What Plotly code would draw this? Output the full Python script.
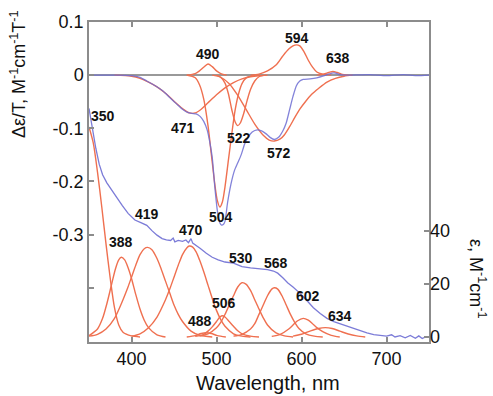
import plotly.graph_objects as go

# ---------------- data ----------------
# experimental MCD (left axis, Δε/T)
mcd_wl = [350, 380, 400, 410, 418, 428, 437, 445, 453, 460, 466, 471, 476, 481, 485, 489, 492, 495, 498,
          501, 504, 506, 508, 510, 513, 517, 521, 525, 529, 533, 537, 542, 548, 553, 558, 563, 568, 573,
          578, 582, 586, 590, 594, 598, 602, 610, 618, 625, 630, 636, 640, 645, 652, 680, 700, 720, 735, 750]
mcd_val = [0, 0, -0.001, -0.004, -0.011, -0.02, -0.03, -0.042, -0.054, -0.064, -0.07, -0.072, -0.073,
           -0.078, -0.087, -0.103, -0.125, -0.155, -0.21, -0.255, -0.278, -0.282, -0.281, -0.275, -0.24,
           -0.205, -0.18, -0.165, -0.15, -0.13, -0.117, -0.107, -0.103, -0.105, -0.11, -0.117, -0.121,
           -0.117, -0.105, -0.09, -0.065, -0.04, -0.02, -0.011, -0.008, -0.007, -0.005, -0.002, 0.001,
           0.004, 0.004, 0.001, 0, 0.001, -0.001, 0.001, -0.001, 0]

# experimental absorption (right axis, ε)
abs_wl = [350, 352, 355, 358, 362, 366, 371, 377, 383, 389, 396, 404, 411, 418, 424, 430, 436, 441, 446,
          449, 451, 455, 460, 464, 467, 470, 472, 476, 481, 488, 495, 502, 510, 520, 530, 540, 550, 560,
          567, 572, 578, 584, 590, 598, 606, 614, 622, 630, 638, 645, 653, 661, 669, 677, 685, 692, 700,
          706, 710, 716, 722, 728, 734, 738, 742, 746]
abs_eps = [86, 82, 77, 71, 65, 61, 58, 55, 52, 49.5, 46.5, 44, 43, 42, 40, 38.3, 37, 36.5, 36.3,
           37.2, 35.8, 36.3, 36, 36.5, 35.5, 37, 35.3, 34.5, 33.3, 31.5, 30, 29, 28.2, 27.8, 26.5, 26,
           25.7, 25.3, 24.8, 24, 22.3, 20.3, 18.8, 16.5, 13.8, 11, 8.8, 7, 5.8, 5, 4, 3.1, 2.2, 1.5, 0.9,
           0.5, 0.3, 0.8, 0, 0.5, -0.3, 0.6, -0.5, 0.4, -0.6, 0]

# MCD Gaussian components
b471_wl = [380, 400, 410, 420, 430, 440, 450, 460, 468, 475, 482, 490, 500, 510, 520, 530, 540, 550, 560]
b471_val = [0, -0.002, -0.006, -0.013, -0.022, -0.034, -0.049, -0.063, -0.071, -0.071, -0.064, -0.052,
            -0.037, -0.024, -0.014, -0.007, -0.003, -0.001, 0]
b490_wl = [465, 475, 480, 485, 490, 495, 500, 505, 512]
b490_val = [0, 0.003, 0.008, 0.015, 0.021, 0.016, 0.008, 0.003, 0]
b504_wl = [465, 475, 480, 485, 490, 494, 498, 501, 504, 507, 510, 514, 518, 522, 526, 530, 535, 545]
b504_val = [0, -0.005, -0.018, -0.045, -0.095, -0.15, -0.205, -0.236, -0.248, -0.238, -0.21, -0.16,
            -0.11, -0.065, -0.035, -0.016, -0.005, 0]
b522_wl = [500, 505, 510, 514, 518, 522, 525, 528, 532, 536, 540, 545, 550, 558]
b522_val = [0, -0.004, -0.015, -0.035, -0.065, -0.088, -0.095, -0.09, -0.072, -0.048, -0.027, -0.011,
            -0.003, 0]
b572_wl = [495, 505, 515, 525, 535, 545, 555, 562, 568, 575, 580, 586, 592, 598, 605, 612, 620, 630,
           640, 650, 660]
b572_val = [0, -0.004, -0.016, -0.038, -0.065, -0.092, -0.113, -0.122, -0.124, -0.12, -0.112, -0.097,
            -0.08, -0.064, -0.049, -0.036, -0.025, -0.013, -0.006, -0.002, 0]
b594_wl = [540, 550, 560, 570, 578, 585, 590, 594, 598, 603, 608, 613, 618, 625, 635]
b594_val = [0, 0.002, 0.008, 0.019, 0.036, 0.049, 0.055, 0.057, 0.055, 0.044, 0.028, 0.015, 0.006,
            0.002, 0]
b638_wl = [618, 626, 632, 637, 642, 647, 655]
b638_val = [0, 0.002, 0.005, 0.007, 0.005, 0.002, 0]

# absorption Gaussian components
a350_wl = [350, 355, 360, 365, 370, 375, 380, 385, 390, 400, 410]
a350_eps = [79, 73, 62, 49, 35, 22, 11, 4.5, 1.8, 0.4, 0]
a388_wl = [350, 360, 366, 371, 376, 381, 385, 388, 392, 396, 400, 405, 410, 415, 420, 430, 440]
a388_eps = [0.5, 3, 7, 12.5, 19, 25.5, 29, 30, 29, 26, 22, 16, 10.5, 6.3, 3.5, 0.8, 0]
a419_wl = [350, 360, 370, 380, 390, 395, 400, 405, 410, 415, 419, 424, 430, 435, 440, 445, 450, 455,
           460, 470, 480, 495]
a419_eps = [0.3, 1, 3, 7, 14, 18, 22.5, 27, 31, 33.2, 33.7, 32.8, 29.5, 25.5, 21, 16.5, 12, 8.5, 5.8,
            2.2, 0.7, 0]
a470_wl = [400, 410, 420, 430, 440, 445, 450, 455, 460, 465, 468, 472, 476, 480, 485, 490, 495, 500,
           505, 510, 520, 530, 540]
a470_eps = [0.3, 1.2, 3.5, 7.5, 14, 18, 22.5, 27, 31, 33.5, 34.2, 33.8, 32, 29, 24.5, 19.5, 14.5, 10,
            6.5, 4, 1.2, 0.3, 0]
a488_wl = [465, 475, 482, 488, 494, 501, 511]
a488_eps = [0, 0.5, 1.3, 1.6, 1.3, 0.5, 0]
a506_wl = [475, 485, 490, 495, 500, 504, 507, 510, 515, 520, 525, 530, 540, 550]
a506_eps = [0.2, 1, 2.2, 3.8, 5.8, 7.5, 8, 7.5, 5.8, 4, 2.3, 1.2, 0.3, 0]
a530_wl = [480, 490, 500, 505, 510, 515, 520, 525, 530, 535, 540, 545, 550, 555, 560, 570, 580, 590]
a530_eps = [0.3, 1.2, 3.5, 5.5, 8.5, 12, 15.5, 18.8, 20.4, 19.8, 17.5, 14, 10.5, 7.2, 4.5, 1.5, 0.4, 0]
a568_wl = [520, 530, 540, 545, 550, 555, 560, 565, 568, 572, 577, 582, 587, 592, 597, 605, 615, 625]
a568_eps = [0.3, 1, 3, 5, 8.5, 12, 15.5, 18, 18.5, 18, 15.5, 12, 8.5, 5.5, 3.2, 1.2, 0.3, 0]
a602_wl = [565, 575, 585, 590, 595, 602, 608, 613, 618, 625, 635, 645]
a602_eps = [0.2, 1, 3, 4.5, 6, 7, 6.3, 5, 3.5, 2, 0.6, 0]
a634_wl = [590, 600, 610, 620, 628, 636, 645, 655, 665, 675]
a634_eps = [0.3, 1, 2.2, 3.2, 3.5, 3.2, 2.2, 1.1, 0.4, 0]

# peak labels (text, wavelength, left-axis value)
label_text = ["350", "471", "490", "522", "572", "594", "638", "504",
              "419", "388", "470", "530", "568", "506", "488", "602", "634"]
label_x = [367, 460.6, 490, 526.5, 573.5, 594.7, 643, 505.3,
           418.2, 387.6, 470, 528.8, 570, 508.8, 480.6, 607.6, 645.3]
label_y = [-0.076, -0.10, 0.039, -0.1185, -0.146, 0.0704, 0.0315, -0.2667,
           -0.261, -0.313, -0.291, -0.344, -0.354, -0.428, -0.463, -0.415, -0.454]

x_ticks = [400, 500, 600, 700]
y_ticks = [-0.4, -0.3, -0.2, -0.1, 0, 0.1]
y_ticktext = ["", "-0.3", "-0.2", "-0.1", "0", "0.1"]
y2_ticks = [0, 20, 40]

# ---------------- figure ----------------
ORANGE = "#ef7050"
BLUE = "#6e6ed4"
GRAY = "#8c8c8c"
FONT = "Liberation Sans, Arial, sans-serif"

fig = go.Figure()

mcd_bands = [(b471_wl, b471_val), (b490_wl, b490_val), (b504_wl, b504_val), (b522_wl, b522_val),
             (b572_wl, b572_val), (b594_wl, b594_val), (b638_wl, b638_val)]
abs_bands = [(a350_wl, a350_eps), (a388_wl, a388_eps), (a419_wl, a419_eps), (a470_wl, a470_eps),
             (a488_wl, a488_eps), (a506_wl, a506_eps), (a530_wl, a530_eps), (a568_wl, a568_eps),
             (a602_wl, a602_eps), (a634_wl, a634_eps)]

for xs, ys in abs_bands:
    fig.add_trace(go.Scatter(x=xs, y=ys, yaxis="y2", mode="lines",
                             line=dict(color=ORANGE, width=1.4, shape="spline", smoothing=0.8),
                             hoverinfo="skip"))
for xs, ys in mcd_bands:
    fig.add_trace(go.Scatter(x=xs, y=ys, yaxis="y", mode="lines",
                             line=dict(color=ORANGE, width=1.4, shape="spline", smoothing=0.8),
                             hoverinfo="skip"))

fig.add_trace(go.Scatter(x=abs_wl, y=abs_eps, yaxis="y2", mode="lines",
                         line=dict(color=BLUE, width=1.3), opacity=0.9))
fig.add_trace(go.Scatter(x=mcd_wl, y=mcd_val, yaxis="y", mode="lines",
                         line=dict(color=BLUE, width=1.3, shape="spline", smoothing=0.6), opacity=0.85))

annotations = []
for t, x, y in zip(label_text, label_x, label_y):
    annotations.append(dict(text="<b>" + t + "</b>", x=x, y=y, xref="x", yref="y", showarrow=False,
                            font=dict(size=14, color="#111", family=FONT)))

annotations.append(dict(text="Δε/T, M<sup>-1</sup>cm<sup>-1</sup>T<sup>-1</sup>", textangle=-90,
                        x=-0.209, y=0.837, xref="paper", yref="paper", showarrow=False,
                        xanchor="center", yanchor="middle", font=dict(size=18, color="#111", family=FONT)))
annotations.append(dict(text="ε, M<sup>-1</sup>cm<sup>-1</sup>", textangle=90,
                        x=1.141, y=0.197, xref="paper", yref="paper", showarrow=False,
                        xanchor="center", yanchor="middle", font=dict(size=18, color="#111", family=FONT)))
annotations.append(dict(text="Wavelength, nm", x=0.525, y=-0.128, xref="paper", yref="paper",
                        showarrow=False, xanchor="center", yanchor="middle",
                        font=dict(size=20, color="#111", family=FONT)))

axis_common = dict(ticks="inside", ticklen=5, tickwidth=1.5, tickcolor=GRAY, showgrid=False,
                   tickfont=dict(size=18, color="#111", family=FONT))

fig.update_layout(
    width=493, height=396,
    margin=dict(l=89, r=64, t=17, b=54),
    plot_bgcolor="white", paper_bgcolor="white",
    showlegend=False,
    font=dict(family=FONT, color="#111"),
    annotations=annotations,
    xaxis=dict(range=[350, 750], tickvals=x_ticks, showline=True, linecolor=GRAY, linewidth=1.5,
               mirror="ticks", zeroline=False, **axis_common),
    yaxis=dict(range=[-0.502, 0.1], tickvals=y_ticks, ticktext=y_ticktext, showline=True,
               linecolor=GRAY, linewidth=1.5, mirror=True, zeroline=True, zerolinecolor="#999",
               zerolinewidth=1.5, **axis_common),
    yaxis2=dict(range=[-1.9, 118.5], tickvals=y2_ticks, overlaying="y", side="right",
                showline=False, zeroline=False, **axis_common),
    yaxis3=dict(range=[-0.502, 0.1], tickvals=[-0.2, -0.1], overlaying="y", side="right",
                showticklabels=False, showline=False, zeroline=False, ticks="inside", ticklen=5,
                tickwidth=1.5, tickcolor=GRAY, showgrid=False),
)

fig.write_html("out.html")
